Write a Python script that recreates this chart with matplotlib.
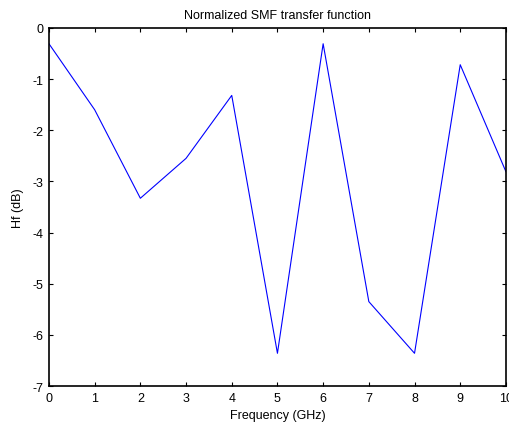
import numpy as np
import matplotlib
matplotlib.use("Agg")
import matplotlib.pyplot as plt

freq = [0, 1, 2, 3, 4, 5, 6, 7, 8, 9, 10]
hf = [-0.31, -1.6, -3.33, -2.55, -1.32, -6.36, -0.31, -5.35, -6.36, -0.72, -2.81]

plt.rcParams['font.family'] = ['Liberation Sans', 'DejaVu Sans']
plt.rcParams['font.size'] = 9
plt.rcParams['axes.unicode_minus'] = False

fig = plt.figure(figsize=(5.1, 4.31), dpi=100)
ax = fig.add_axes([0.096, 0.102, 0.896, 0.831])
ax.plot(freq, hf, color='blue', linewidth=0.8)
ax.set_xlim(0, 10)
ax.set_ylim(-7, 0)
ax.set_xticks(np.arange(0, 11, 1))
ax.set_yticks(np.arange(-7, 1, 1))
ax.tick_params(direction='in', top=True, right=True, length=3, width=0.8,
               labelsize=9, pad=4)
for s in ax.spines.values():
    s.set_linewidth(1.2)
ax.set_xlabel('Frequency (GHz)', fontsize=9, labelpad=4)
ax.set_ylabel('Hf (dB)', fontsize=9, labelpad=6)
ax.set_title('Normalized SMF transfer function', fontsize=9, pad=7)

fig.savefig('out.png', dpi=100)
